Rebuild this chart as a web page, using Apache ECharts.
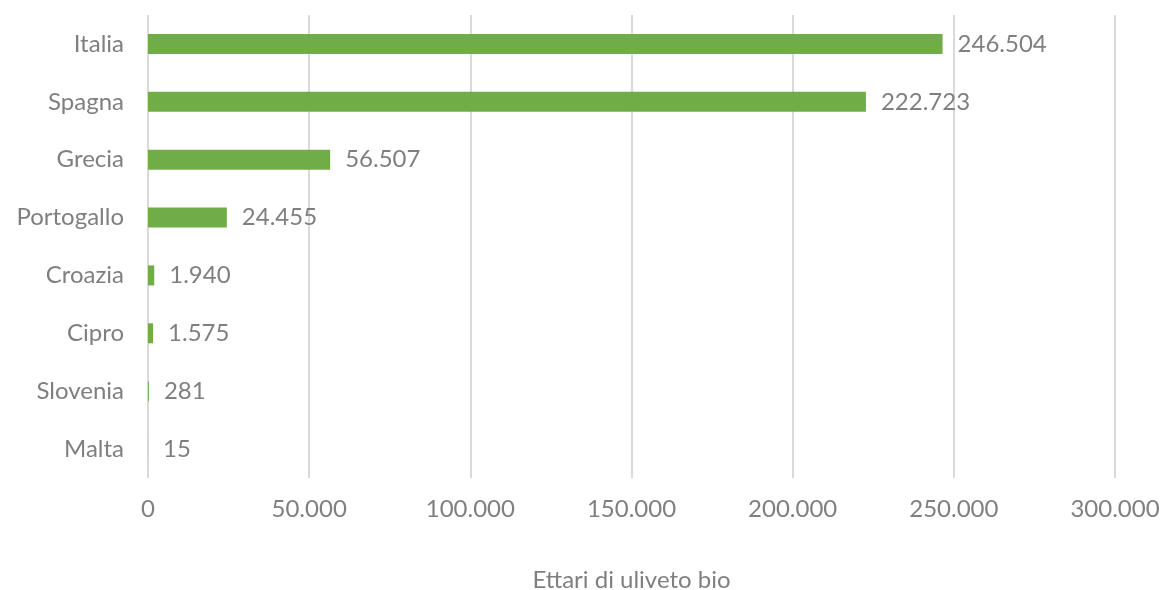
<!DOCTYPE html>
<html><head><meta charset="utf-8">
<script src="https://cdn.jsdelivr.net/npm/echarts@6/dist/echarts.min.js"></script>
<style>html,body{margin:0;padding:0;background:#fff}#c{width:1162px;height:590px}</style>
</head><body><div id="c"></div>
<script>
const categories = ["Italia","Spagna","Grecia","Portogallo","Croazia","Cipro","Slovenia","Malta"];
const values = [246504, 222723, 56507, 24455, 1940, 1575, 281, 15];
const axisName = "Ettari di uliveto bio";

function fmt(v){ return String(v).replace(/\B(?=(\d{3})+(?!\d))/g, "."); }
const font = "Lato, 'Noto Sans', sans-serif";
const chart = echarts.init(document.getElementById('c'));
chart.setOption({
  animation:false,
  grid:{left:148,right:47,top:15,bottom:112,containLabel:false,outerBoundsMode:'none'},
  xAxis:{type:'value',min:0,max:300000,interval:50000,
    name:axisName,nameLocation:'middle',nameGap:90,
    nameTextStyle:{color:'#7f7f7f',fontSize:24,fontFamily:font},
    axisLine:{show:false},axisTick:{show:false},
    splitLine:{lineStyle:{color:'#d9d9d9',width:2}},
    axisLabel:{formatter:fmt,color:'#7f7f7f',fontSize:24,fontFamily:font,margin:19}},
  yAxis:{type:'category',data:categories,inverse:true,
    axisLine:{show:false},axisTick:{show:false},
    axisLabel:{color:'#7f7f7f',fontSize:24,fontFamily:font,margin:24}},
  series:[{type:'bar',data:values,barWidth:20,
    itemStyle:{color:'#70ad47'},
    label:{show:true,position:'right',distance:15,formatter:p=>fmt(p.value),
      color:'#7f7f7f',fontSize:24,fontFamily:font}}]
});
</script></body></html>
